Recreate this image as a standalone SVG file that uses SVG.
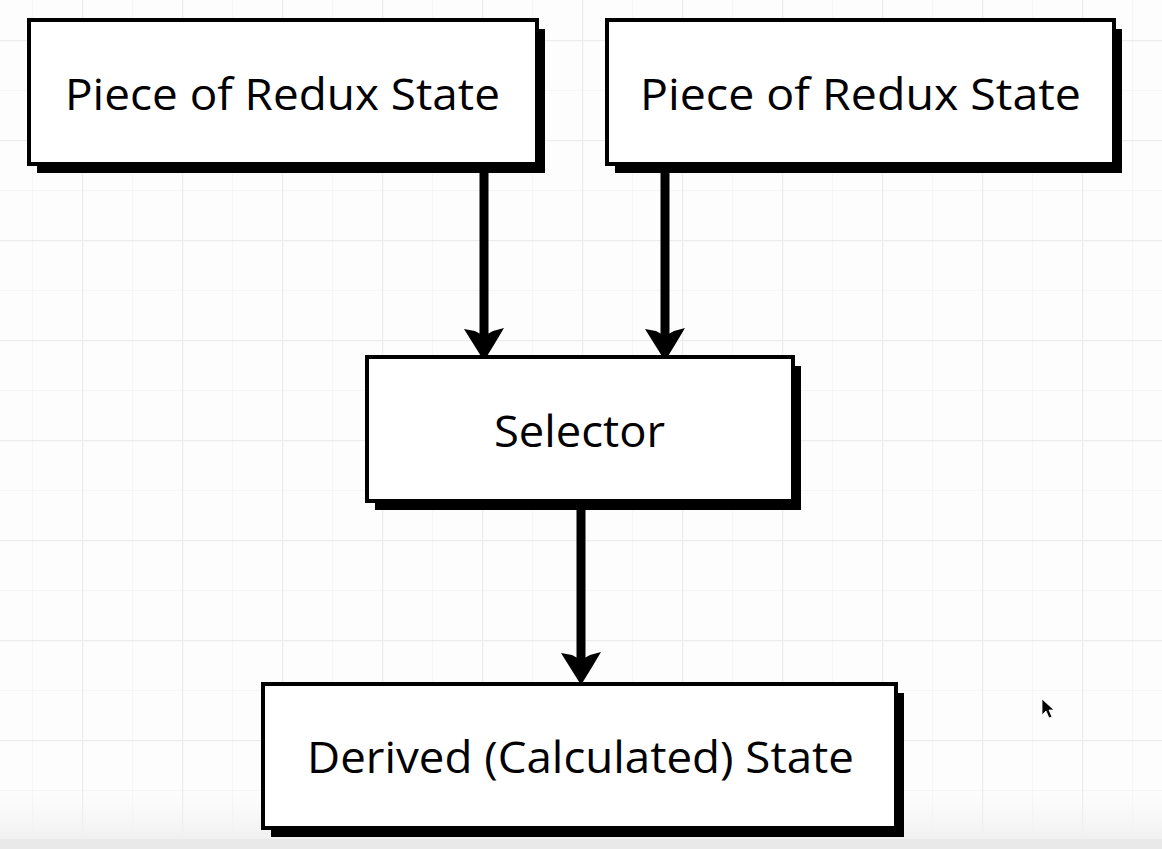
<svg xmlns="http://www.w3.org/2000/svg" width="1162" height="849" viewBox="0 0 1162 849">
<defs>
<pattern id="minor" x="32" y="40" width="50" height="50" patternUnits="userSpaceOnUse">
<path d="M0 0 V50 M0 0 H50" fill="none" stroke="#f3f3f3" stroke-width="1.5"/>
</pattern>
<pattern id="major" x="82" y="40" width="100" height="100" patternUnits="userSpaceOnUse">
<path d="M0 0 V100 M0 0 H100" fill="none" stroke="#ececec" stroke-width="2.5"/>
</pattern>
<linearGradient id="fade" x1="0" y1="0" x2="0" y2="1">
<stop offset="0" stop-color="#f6f6f6" stop-opacity="0"/>
<stop offset="1" stop-color="#f0f0f0" stop-opacity="1"/>
</linearGradient>
<path id="head" d="M-20,-31 L-9,-29 L0,-24 L9,-29 L20,-32 Q10,-15 0,1 Q-10,-15 -20,-31 Z"/>
</defs>
<style>
.shadow{fill:#000}
.frame{fill:#fff;stroke:#000;stroke-width:4}
.label{font-family:"Open Sans","Liberation Sans",sans-serif;font-size:44px;fill:#000;text-anchor:start}
.wire{stroke:#000;stroke-width:9;fill:none}
</style>
<rect width="1162" height="849" fill="#fdfdfd"/>
<rect width="1162" height="849" fill="url(#minor)"/>
<rect width="1162" height="849" fill="url(#major)"/>
<rect x="0" y="790" width="1162" height="50" fill="url(#fade)"/>
<rect x="0" y="839" width="1162" height="10" fill="#e9e9e9"/>

<g id="connectors">
<line class="wire" x1="484" y1="172" x2="484" y2="340"/>
<use href="#head" transform="translate(484,360)"/>
<line class="wire" x1="665" y1="172" x2="665" y2="340"/>
<use href="#head" transform="translate(665,360)"/>
<line class="wire" x1="581" y1="509" x2="581" y2="664"/>
<use href="#head" transform="translate(581,684)"/>
</g>

<g id="piece1">
<rect class="shadow" x="37" y="29" width="508" height="144"/>
<rect class="frame" x="29" y="20" width="508" height="144"/>
<text class="label" x="65" y="110" textLength="435" lengthAdjust="spacingAndGlyphs">Piece of Redux State</text>
</g>

<g id="piece2">
<rect class="shadow" x="615" y="29" width="507" height="144"/>
<rect class="frame" x="607" y="20" width="507" height="144"/>
<text class="label" x="640" y="110" textLength="441" lengthAdjust="spacingAndGlyphs">Piece of Redux State</text>
</g>

<g id="selector">
<rect class="shadow" x="375" y="366" width="426" height="144"/>
<rect class="frame" x="367" y="357" width="426" height="144"/>
<text class="label" x="494" y="447" textLength="171" lengthAdjust="spacingAndGlyphs">Selector</text>
</g>

<g id="derived">
<rect class="shadow" x="271" y="693" width="633" height="144"/>
<rect class="frame" x="263" y="684" width="633" height="144"/>
<text class="label" x="307" y="773" textLength="547" lengthAdjust="spacingAndGlyphs">Derived (Calculated) State</text>
</g>

<path d="M1042,699 L1042,715 L1046,711 L1049,718 L1052,717 L1049,710 L1054,710 Z" fill="#000" stroke="#fff" stroke-width="0.8"/>
</svg>
